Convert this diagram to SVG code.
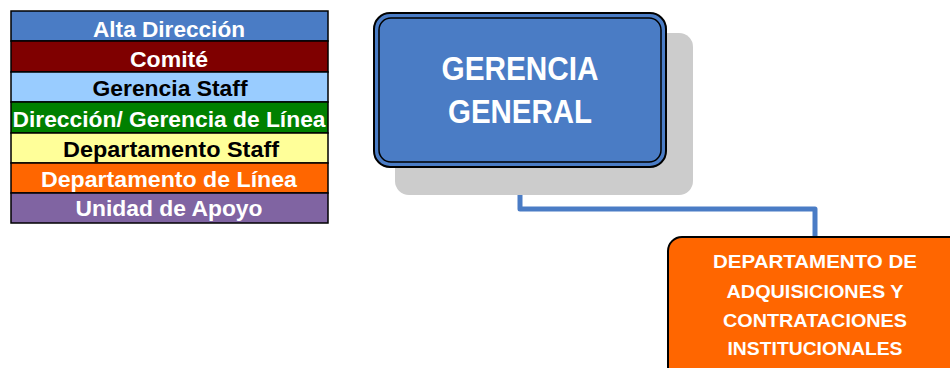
<svg xmlns="http://www.w3.org/2000/svg" width="950" height="368" viewBox="0 0 950 368">
<style>
.t{font-family:"Liberation Sans",Arial,sans-serif;font-weight:bold;text-anchor:middle}
.lg{font-size:22px}
.w{fill:#fff}
.k{fill:#000}
.row{stroke:#000;stroke-width:1.5}
</style>
<rect width="950" height="368" fill="#fff"/>
<g id="legend">
<rect class="row" x="11" y="11" width="317" height="30" fill="#4A7CC5"/>
<rect class="row" x="11" y="41" width="317" height="31" fill="#7F0000"/>
<rect class="row" x="11" y="72" width="317" height="30" fill="#99CCFF"/>
<rect class="row" x="11" y="102" width="317" height="31" fill="#008000"/>
<rect class="row" x="11" y="133" width="317" height="30" fill="#FFFF99"/>
<rect class="row" x="11" y="163" width="317" height="30" fill="#FF6600"/>
<rect class="row" x="11" y="193" width="317" height="30" fill="#8064A2"/>
<text class="t lg w" x="169" y="37" textLength="152" lengthAdjust="spacingAndGlyphs">Alta Dirección</text>
<text class="t lg w" x="169" y="67" textLength="78" lengthAdjust="spacingAndGlyphs">Comité</text>
<text class="t lg k" x="170" y="96" textLength="155" lengthAdjust="spacingAndGlyphs">Gerencia Staff</text>
<text class="t lg w" x="169" y="127" textLength="313" lengthAdjust="spacingAndGlyphs">Dirección/ Gerencia de Línea</text>
<text class="t lg k" x="171" y="157" textLength="216" lengthAdjust="spacingAndGlyphs">Departamento Staff</text>
<text class="t lg w" x="169" y="187" textLength="256" lengthAdjust="spacingAndGlyphs">Departamento de Línea</text>
<text class="t lg w" x="169" y="216" textLength="187" lengthAdjust="spacingAndGlyphs">Unidad de Apoyo</text>
</g>
<g id="connectors">
<path d="M520 168 V209 H815 V237" fill="none" stroke="#4A7CC5" stroke-width="5" stroke-linejoin="round"/>
</g>
<g id="gerencia-general">
<rect x="395" y="33" width="298" height="162" rx="14" fill="#CCCCCC"/>
<rect x="374" y="13" width="292" height="154" rx="16" fill="#4A7CC5" stroke="#000" stroke-width="2"/>
<rect x="379" y="18" width="282" height="144" rx="12" fill="none" stroke="#000" stroke-width="1.5"/>
<text class="t w" x="520" y="80" font-size="34" textLength="157" lengthAdjust="spacingAndGlyphs">GERENCIA</text>
<text class="t w" x="520" y="123" font-size="34" textLength="144" lengthAdjust="spacingAndGlyphs">GENERAL</text>
</g>
<g id="departamento-adquisiciones">
<rect x="668" y="237" width="300" height="150" rx="14" fill="#FF6600" stroke="#000" stroke-width="2"/>
<text class="t w" x="815" y="268" font-size="18" textLength="204" lengthAdjust="spacingAndGlyphs">DEPARTAMENTO DE</text>
<text class="t w" x="815" y="298" font-size="18" textLength="177" lengthAdjust="spacingAndGlyphs">ADQUISICIONES Y</text>
<text class="t w" x="815" y="327" font-size="18" textLength="184" lengthAdjust="spacingAndGlyphs">CONTRATACIONES</text>
<text class="t w" x="815" y="355" font-size="18" textLength="175" lengthAdjust="spacingAndGlyphs">INSTITUCIONALES</text>
</g>
</svg>
